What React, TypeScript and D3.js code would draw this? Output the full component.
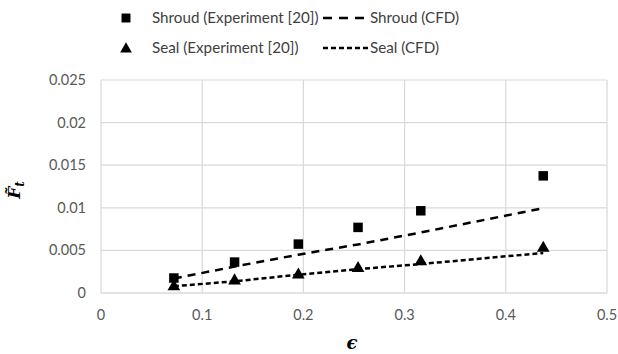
import React from "react";
import * as d3 from "d3";

const eps = [0.072, 0.132, 0.195, 0.254, 0.316, 0.437];
const shroudExp = [0.00176, 0.00363, 0.00574, 0.0077, 0.00965, 0.01375];
const sealExp = [0.00086, 0.00156, 0.00226, 0.003, 0.0038, 0.0054];
const shroudCfd = [0.0017, 0.0031, 0.0045, 0.0057, 0.0071, 0.00996];
const sealCfd = [0.0008, 0.00137, 0.00215, 0.0028, 0.0034, 0.0047];
const xTicks = [0, 0.1, 0.2, 0.3, 0.4, 0.5];
const yTicks = [0, 0.005, 0.01, 0.015, 0.02, 0.025];

const W = 618, H = 354;
const FONT = "Lato, 'Open Sans', sans-serif";

export default function App() {
  const x = d3.scaleLinear().domain([0, 0.5]).range([101, 607]);
  const y = d3.scaleLinear().domain([0, 0.025]).range([293, 80]);
  const line = d3.line<[number, number]>().x(d => x(d[0])).y(d => y(d[1]));
  const tri = d3.symbol().type(d3.symbolTriangle).size(70)()!;
  const sq = d3.symbol().type(d3.symbolSquare).size(90)()!;
  return (
    <svg width={W} height={H} style={{ position: "absolute", left: 0, top: 0, background: "#fff" }} fontFamily={FONT}>
      {yTicks.map(t => (
        <g key={"y" + t}>
          <line x1={x(0)} x2={x(0.5)} y1={y(t)} y2={y(t)} stroke={t === 0 ? "#c8c8c8" : "#d9d9d9"} strokeWidth={1.2} />
          <text x={86} y={y(t)} dy="0.35em" textAnchor="end" fontSize={14.5} fill="#595959">{t === 0 ? "0" : String(t)}</text>
        </g>
      ))}
      {xTicks.map(t => (
        <g key={"x" + t}>
          <line x1={x(t)} x2={x(t)} y1={y(0)} y2={y(0.025)} stroke="#d9d9d9" strokeWidth={1.2} />
          <text x={x(t)} y={320} textAnchor="middle" fontSize={14.5} fill="#595959">{t === 0 ? "0" : String(t)}</text>
        </g>
      ))}
      <path d={line(eps.map((e, i) => [e, shroudCfd[i]]) as [number, number][])!} fill="none" stroke="#000" strokeWidth={2.5} strokeDasharray="8,6" />
      <path d={line(eps.map((e, i) => [e, sealCfd[i]]) as [number, number][])!} fill="none" stroke="#000" strokeWidth={2.5} strokeDasharray="5,3" />
      {eps.map((e, i) => (
        <path key={"s" + i} d={sq} transform={`translate(${x(e)},${y(shroudExp[i])})`} fill="#000" />
      ))}
      {eps.map((e, i) => (
        <path key={"t" + i} d={tri} transform={`translate(${x(e)},${y(sealExp[i]) + 1})`} fill="#000" />
      ))}
      {/* legend */}
      <path d={d3.symbol().type(d3.symbolSquare).size(80)()!} transform="translate(126,18)" fill="#000" />
      <text x={152} y={18} dy="0.35em" fontSize={15.2} fill="#404040">Shroud (Experiment [20])</text>
      <line x1={323} x2={368} y1={18} y2={18} stroke="#000" strokeWidth={2.5} strokeDasharray="9,7" />
      <text x={370} y={18} dy="0.35em" fontSize={15.2} fill="#404040">Shroud (CFD)</text>
      <path d={d3.symbol().type(d3.symbolTriangle).size(60)()!} transform="translate(126,49)" fill="#000" />
      <text x={152} y={48} dy="0.35em" fontSize={15.2} fill="#404040">Seal (Experiment [20])</text>
      <line x1={323} x2={368} y1={48} y2={48} stroke="#000" strokeWidth={2.5} strokeDasharray="5,3" />
      <text x={370} y={48} dy="0.35em" fontSize={15.2} fill="#404040">Seal (CFD)</text>
      {/* axis titles */}
      <text transform="translate(20,190) rotate(-90)" textAnchor="middle" fontSize={17} fontWeight="bold" fontStyle="italic" fill="#000" fontFamily="'DejaVu Serif', serif">
        F̃<tspan fontSize={12} dy="4">t</tspan>
      </text>
      <text x={352} y={349} textAnchor="middle" fontSize={18} fontWeight="bold" fontStyle="italic" fill="#000" fontFamily="'DejaVu Serif', serif">ϵ</text>
    </svg>
  );
}
